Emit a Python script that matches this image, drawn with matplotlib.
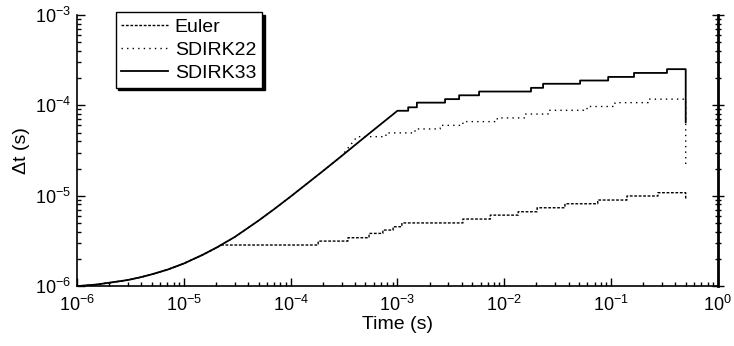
import numpy as np
import matplotlib
matplotlib.use("Agg")
import matplotlib.pyplot as plt

plt.rcParams['font.family'] = ['Liberation Sans', 'DejaVu Sans']
plt.rcParams['mathtext.fontset'] = 'custom'
plt.rcParams['mathtext.rm'] = 'Liberation Sans'
plt.rcParams['mathtext.it'] = 'Liberation Sans:italic'

# shared start-up ramp
ramp_t = [1e-6, 1.5e-6, 2e-6, 3e-6, 4e-6, 5e-6, 7e-6, 1e-5, 1.5e-5, 2e-5, 3e-5, 5e-5,
          7e-5, 1e-4, 1.5e-4, 2e-4, 3e-4, 5e-4, 7e-4, 1e-3]
ramp_dt = [1.0e-6, 1.04e-6, 1.09e-6, 1.17e-6, 1.26e-6, 1.35e-6, 1.52e-6, 1.78e-6, 2.22e-6,
           2.65e-6, 3.5e-6, 5.3e-6, 7.1e-6, 9.8e-6, 1.43e-5, 1.87e-5, 2.75e-5, 4.5e-5,
           6.2e-5, 8.7e-5]

t_end = 0.5

# step changes: time of change, new step size
euler_t = [2.28e-5, 1.81e-4, 3.44e-4, 5.42e-4, 7.3e-4, 9.1e-4, 1.1e-3, 4.1e-3, 7.4e-3,
           1.35e-2, 2.03e-2, 3.7e-2, 7.5e-2, 0.141, 0.275]
euler_dt = [2.85e-6, 3.15e-6, 3.43e-6, 3.83e-6, 4.17e-6, 4.54e-6, 5.0e-6, 5.52e-6, 6.1e-6,
            6.65e-6, 7.36e-6, 8.15e-6, 8.96e-6, 9.93e-6, 1.08e-5]
euler_last = 9.1e-6

sd22_t = [4.19e-4, 7.8e-4, 1.46e-3, 2.51e-3, 4.1e-3, 8.6e-3, 1.57e-2, 2.57e-2, 5.96e-2,
          0.109, 0.222]
sd22_dt = [4.5e-5, 4.95e-5, 5.48e-5, 6.0e-5, 6.6e-5, 7.25e-5, 8.0e-5, 8.8e-5, 9.7e-5,
           1.07e-4, 1.17e-4]
sd22_last = 2.2e-5

sd33_t = [1e-3, 1.26e-3, 1.52e-3, 2.79e-3, 3.78e-3, 5.81e-3, 1.78e-2, 2.31e-2, 5.13e-2,
          9.4e-2, 0.164, 0.334]
sd33_dt = [8.7e-5, 9.5e-5, 1.07e-4, 1.17e-4, 1.29e-4, 1.42e-4, 1.56e-4, 1.73e-4, 1.88e-4,
           2.06e-4, 2.28e-4, 2.51e-4]
sd33_last = 6.5e-5


def build(step_t, step_dt, last):
    # ramp up to the branch point, then a staircase up to t_end
    xs = [t for t in ramp_t if t < step_t[0]]
    ys = [d for t, d in zip(ramp_t, ramp_dt) if t < step_t[0]]
    edges = list(step_t) + [t_end]
    for i, d in enumerate(step_dt):
        xs += [edges[i], edges[i + 1]]
        ys += [d, d]
    xs.append(t_end)
    ys.append(last)
    return xs, ys


fig = plt.figure(figsize=(7.34, 3.46), dpi=100)
ax = fig.add_axes([0.105, 0.173, 0.873, 0.784])

x, y = build(euler_t, euler_dt, euler_last)
ax.plot(x, y, color='black', lw=1, ls=(0, (2, 1.2)), label='Euler')
x, y = build(sd22_t, sd22_dt, sd22_last)
ax.plot(x, y, color='black', lw=1, ls=(0, (1, 3)), label='SDIRK22')
x, y = build(sd33_t, sd33_dt, sd33_last)
ax.plot(x, y, color='black', lw=1.3, ls='-', label='SDIRK33')

ax.set_xscale('log')
ax.set_yscale('log')
ax.set_xlim(1e-6, 1)
ax.set_ylim(1e-6, 1e-3)

ax.spines['top'].set_visible(False)
ax.spines['right'].set_visible(False)
ax.spines['left'].set_linewidth(1.2)
ax.spines['bottom'].set_linewidth(1.2)
ax.tick_params(which='major', direction='in', length=6, width=1, labelsize=13, pad=4)
ax.tick_params(which='minor', direction='in', length=3, width=1)
ax.tick_params(axis='x', which='major', pad=6)
ax.tick_params(top=False, right=False)

# right axis with ticks on both sides
ax2 = ax.twinx()
ax2.set_yscale('log')
ax2.set_ylim(1e-6, 1e-3)
for s in ['top', 'left', 'bottom']:
    ax2.spines[s].set_visible(False)
ax2.spines['right'].set_linewidth(2)
ax2.tick_params(which='major', direction='inout', length=8, width=1, labelright=False)
ax2.tick_params(which='minor', direction='inout', length=4, width=1, labelright=False)

ax.set_xlabel('Time (s)', fontsize=14, labelpad=1)
ax.set_ylabel('\u0394t (s)', fontsize=14, labelpad=4)

leg = ax.legend(loc='upper left', bbox_to_anchor=(0.06, 1.01), borderaxespad=0,
                fontsize=14, frameon=True, fancybox=False, edgecolor='black',
                shadow={'color': 'black', 'alpha': 1}, framealpha=1,
                handlelength=2.4, handletextpad=0.35, labelspacing=0.28,
                borderpad=0.3)
leg.get_frame().set_linewidth(1)

fig.savefig('out.png', dpi=100)
